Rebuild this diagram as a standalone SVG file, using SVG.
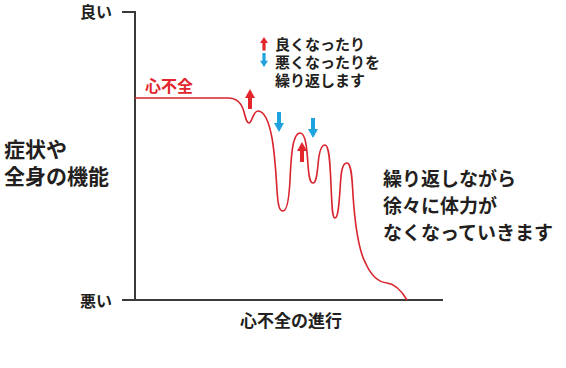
<svg xmlns="http://www.w3.org/2000/svg" xmlns:xlink="http://www.w3.org/1999/xlink" width="566" height="368" viewBox="0 0 566 368">
<style>
.t{font-family:"Noto Sans CJK JP","Noto Sans",sans-serif;font-weight:700;fill:#231f20}
.r{fill:#e2262c}
.b{fill:#1ea3df}
.ax{stroke:#3a3a3a;stroke-width:2;fill:none}
.cv{stroke:#d9232d;stroke-width:1.6;fill:none}
</style>
<defs>
<path id="up" d="M0,0 L5,9 H2 V20 H-2 V9 H-5 Z"/>
</defs>
<rect width="566" height="368" fill="#fff"/>
<g id="axes">
<path class="ax" d="M122,12 H135 V300"/>
<path class="ax" d="M122,300 H443"/>
</g>
<g id="axis-labels">
<text class="t" x="80" y="18" font-size="16">良い</text>
<text class="t" x="80" y="307" font-size="16">悪い</text>
<text class="t" x="240" y="327" font-size="17">心不全の進行</text>
<text class="t" x="4" y="157" font-size="21">症状や</text>
<text class="t" x="4" y="184" font-size="21">全身の機能</text>
</g>
<g id="curve">
<path class="cv" d="M135,98 H228 C238,98 242,104 244,112 C246,120 247,123 249,123 C252,123 253,111 258,111 C264,111 269,122 272,138 C275,155 276,175 277,190 C278,205 279,211 283,211 C287,211 289,200 290,180 C291,160 292,133 300,133 C306,133 307,150 308,165 C309,178 310,183 313,183 C316,183 317,175 318,165 C319,152 321,145 325,145 C329,145 330,160 331,185 C332,205 332,218 335,218 C338,218 339,205 340,190 C341,172 342,163 347,163 C351,163 352,175 353,195 C355,225 358,250 366,264 C371,275 377,282 387,283 C395,284 401,290 407,300"/>
</g>
<g id="heart-failure-label">
<text class="t" x="145" y="92" font-size="16" style="fill:#e2262c">心不全</text>
</g>
<g id="arrows">
<use xlink:href="#up" href="#up" class="r" transform="translate(250,89)"/>
<use xlink:href="#up" href="#up" class="b" transform="translate(279,132) rotate(180)"/>
<use xlink:href="#up" href="#up" class="b" transform="translate(313,138) rotate(180)"/>
<use xlink:href="#up" href="#up" class="r" transform="translate(302,142)"/>
</g>
<g id="legend">
<use xlink:href="#up" href="#up" class="r" transform="translate(264,37) scale(0.8,0.68)"/>
<use xlink:href="#up" href="#up" class="b" transform="translate(264,67) rotate(180) scale(0.8,0.7)"/>
<text class="t" x="275" y="50" font-size="15">良くなったり</text>
<text class="t" x="275" y="68" font-size="15">悪くなったりを</text>
<text class="t" x="275" y="86" font-size="15">繰り返します</text>
</g>
<g id="note">
<text class="t" x="383" y="186" font-size="19">繰り返しながら</text>
<text class="t" x="383" y="213" font-size="19">徐々に体力が</text>
<text class="t" x="383" y="240" font-size="19">なくなっていきます</text>
</g>
</svg>
